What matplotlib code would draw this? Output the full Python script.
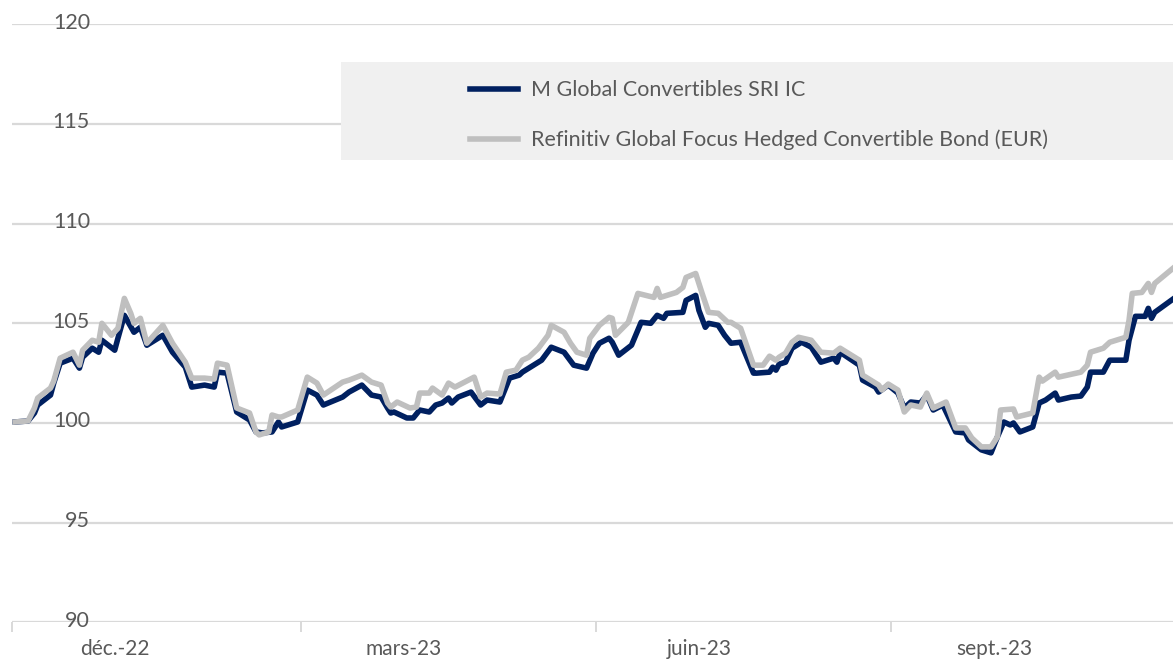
import numpy as np
import pandas as pd
import matplotlib
matplotlib.use("Agg")
import matplotlib.pyplot as plt
import matplotlib.dates as mdates
from matplotlib.patches import Rectangle

# ── data (days after 2022-12-01, index level) ────────────────────────────────
START = pd.Timestamp("2022-12-01")

fund_days = [1, 5, 7, 8, 12, 13, 15, 19, 21, 22, 25, 27, 28, 32, 33, 35, 38, 40, 42, 47,
             50, 54, 56, 60, 63, 64, 67, 70, 74, 76, 78, 81, 83, 84, 89, 92, 95, 97, 103, 105,
             109, 112, 115, 117, 118, 119, 123, 125, 127, 130, 132, 134, 136, 137, 139, 143, 146, 148, 152, 155,
             158, 159, 161, 165, 168, 172, 175, 179, 181, 183, 186, 187, 189, 193, 196, 199, 201, 203, 204, 209,
             210, 213, 214, 216, 217, 220, 222, 224, 227, 231, 232, 236, 237, 238, 239, 241, 243, 246, 249, 252,
             256, 257, 258, 264, 265, 269, 270, 273, 276, 278, 280, 283, 285, 287, 290, 294, 297, 298, 302, 305,
             307, 309, 311, 312, 314, 318, 320, 322, 325, 326, 330, 333, 335, 336, 340, 342, 347, 348, 350, 353,
             354, 355, 356, 362]
fund_vals = [100.05, 100.1, 100.5, 100.9, 101.4, 102.0, 103.0, 103.25, 102.75, 103.3, 103.75, 103.55, 104.15, 103.65, 104.25, 105.4, 104.55, 104.8, 103.9, 104.4,
             103.55, 102.8, 101.8, 101.9, 101.8, 102.55, 102.5, 100.55, 100.15, 99.55, 99.5, 99.55, 100.05, 99.8, 100.05, 101.65, 101.4, 100.9, 101.3, 101.55,
             101.9, 101.4, 101.3, 100.75, 100.5, 100.55, 100.25, 100.25, 100.65, 100.55, 100.9, 101.0, 101.25, 101.0, 101.3, 101.55, 100.9, 101.15, 101.05, 102.25,
             102.4, 102.55, 102.75, 103.15, 103.8, 103.55, 102.9, 102.75, 103.5, 104.0, 104.25, 104.05, 103.4, 103.9, 105.05, 105.0, 105.4, 105.25, 105.5, 105.55,
             106.15, 106.4, 105.65, 104.8, 105.0, 104.9, 104.4, 104.0, 104.05, 102.5, 102.5, 102.55, 102.8, 102.65, 102.95, 103.05, 103.75, 104.05, 103.8, 103.05,
             103.25, 103.05, 103.55, 102.9, 102.15, 101.8, 101.55, 101.9, 101.5, 100.75, 101.05, 101.0, 101.4, 100.65, 100.9, 99.55, 99.5, 99.15, 98.65, 98.5,
             99.3, 100.05, 99.9, 100.0, 99.55, 99.8, 101.0, 101.15, 101.5, 101.15, 101.3, 101.35, 101.8, 102.55, 102.55, 103.15, 103.15, 104.15, 105.35, 105.35,
             105.75, 105.25, 105.55, 106.25]

bench_days = [1, 5, 7, 8, 12, 13, 15, 19, 21, 22, 25, 27, 28, 31, 33, 35, 37, 38, 40, 42,
              47, 50, 54, 56, 60, 63, 64, 67, 70, 74, 76, 77, 80, 81, 83, 84, 89, 92, 95, 97,
              103, 105, 109, 112, 115, 117, 118, 120, 124, 126, 127, 130, 131, 134, 136, 138, 144, 146, 148, 152,
              154, 157, 159, 161, 164, 167, 168, 172, 174, 176, 179, 180, 183, 186, 187, 188, 192, 195, 200, 201,
              202, 207, 209, 210, 213, 215, 217, 220, 223, 224, 227, 231, 234, 236, 238, 239, 241, 243, 245, 249,
              252, 256, 258, 264, 265, 270, 271, 273, 276, 278, 280, 283, 285, 287, 291, 294, 297, 299, 302, 305,
              307, 308, 312, 313, 318, 320, 321, 325, 326, 333, 335, 336, 340, 342, 347, 348, 349, 352, 354, 355,
              356, 362]
bench_vals = [100.05, 100.1, 100.75, 101.25, 101.75, 102.1, 103.25, 103.55, 102.9, 103.65, 104.15, 104.05, 105.0, 104.4, 104.75, 106.25, 105.5, 105.0, 105.25, 104.0,
              104.9, 104.0, 103.05, 102.25, 102.25, 102.2, 103.0, 102.9, 100.75, 100.5, 99.55, 99.4, 99.55, 100.4, 100.3, 100.3, 100.65, 102.3, 102.0, 101.4,
              102.05, 102.15, 102.4, 102.05, 101.9, 101.0, 100.8, 101.05, 100.75, 100.8, 101.5, 101.5, 101.75, 101.4, 102.0, 101.8, 102.3, 101.3, 101.5, 101.45,
              102.55, 102.65, 103.15, 103.3, 103.75, 104.4, 104.9, 104.55, 104.0, 103.55, 103.4, 104.25, 104.9, 105.3, 105.25, 104.4, 105.05, 106.5, 106.3, 106.75,
              106.3, 106.55, 106.8, 107.3, 107.5, 106.5, 105.55, 105.5, 105.05, 105.05, 104.75, 102.9, 102.9, 103.35, 103.15, 103.3, 103.5, 104.05, 104.3, 104.15,
              103.55, 103.5, 103.75, 103.15, 102.4, 101.9, 101.65, 101.95, 101.65, 100.55, 100.9, 100.8, 101.5, 100.75, 101.05, 99.75, 99.75, 99.25, 98.8, 98.8,
              99.3, 100.65, 100.7, 100.3, 100.5, 102.3, 102.1, 102.55, 102.3, 102.55, 102.9, 103.55, 103.75, 104.05, 104.3, 105.15, 106.5, 106.55, 107.0, 106.55,
              107.0, 107.8]

series_names = ["M Global Convertibles SRI IC",
                "Refinitiv Global Focus Hedged Convertible Bond (EUR)"]
tick_months = ["2022-12-01", "2023-03-01", "2023-06-01", "2023-09-01"]
tick_labels = ["déc.-22", "mars-23", "juin-23", "sept.-23"]
y_ticks = [90, 95, 100, 105, 110, 115, 120]

# ── style ────────────────────────────────────────────────────────────────────
NAVY = "#002060"
LGRAY = "#bfbfbf"
GRID = "#d9d9d9"
TXT = "#595959"
plt.rcParams["font.family"] = ["Lato", "DejaVu Sans"]

fund_x = START + pd.to_timedelta(fund_days, unit="D")
bench_x = START + pd.to_timedelta(bench_days, unit="D")

fig = plt.figure(figsize=(11.73, 6.66), dpi=100)
ax = fig.add_axes([12 / 1173, 1 - 622.3 / 666, 1 - 12 / 1173, (622.3 - 24.3) / 666])
ax.set_ylim(90, 120)
ax.set_xlim(START, START + pd.Timedelta(days=361.7))

for v in y_ticks:
    ax.axhline(v, color=GRID, lw=1.6, zorder=1)
    ax.text(78 / 1161, v + 0.08, str(v), transform=ax.get_yaxis_transform(),
            ha="right", va="center", fontsize=15.5, color=TXT, zorder=2)

l1, = ax.plot(fund_x, fund_vals, color=NAVY, lw=4.0, zorder=3, solid_joinstyle="round")
l2, = ax.plot(bench_x, bench_vals, color=LGRAY, lw=4.0, zorder=4, solid_joinstyle="round")

for s in ax.spines.values():
    s.set_visible(False)
ax.set_yticks([])
ax.set_xticks(pd.to_datetime(tick_months))
ax.set_xticklabels([])
ax.tick_params(axis="x", length=7, width=1.4, color=GRID)
ax.set_xticks(pd.to_datetime(tick_months) + pd.Timedelta(days=32), minor=True)
ax.set_xticklabels(tick_labels, minor=True, fontsize=15, color=TXT)
ax.tick_params(axis="x", which="minor", length=0, pad=12)

# legend box
fig.patches.append(Rectangle((341 / 1173, 1 - 160 / 666), (1173 - 341) / 1173, 98 / 666,
                             transform=fig.transFigure, facecolor="#f0f0f0",
                             edgecolor="none", zorder=5))
leg = fig.legend([l1, l2], series_names, loc="upper left",
                 bbox_to_anchor=(451 / 1173, 1 - 61 / 666), frameon=False,
                 fontsize=15.5, handlelength=2.2, handletextpad=0.6,
                 labelspacing=1.37, labelcolor=TXT)
leg.set_zorder(6)

fig.savefig("out.png", dpi=100)
